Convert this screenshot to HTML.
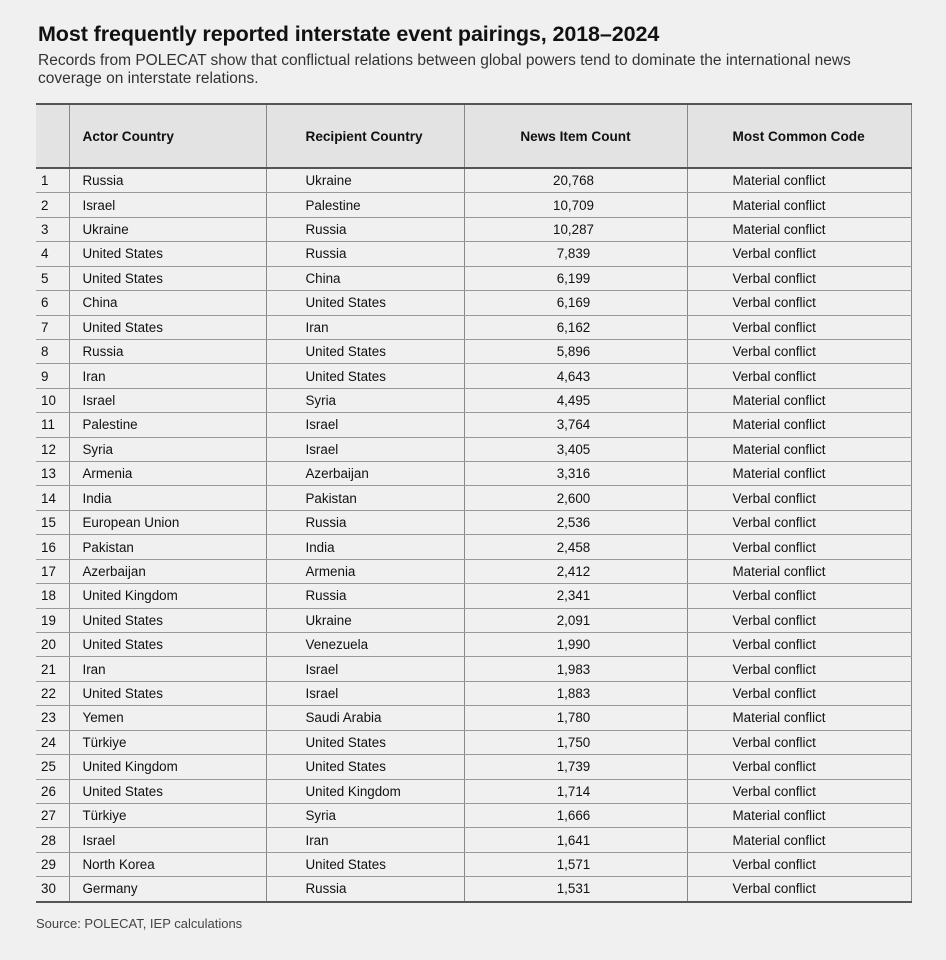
<!DOCTYPE html>
<html><head><meta charset="utf-8"><style>
body{margin:0;width:946px;height:960px;background:#f0f0f0;font-family:"Liberation Sans",Arial,sans-serif;color:#111;position:relative;overflow:hidden}
h1{position:absolute;left:38px;top:22px;margin:0;font-size:21.5px;font-weight:bold;letter-spacing:-0.1px}
.sub{position:absolute;left:38px;top:52px;font-size:15.5px;line-height:18px;color:#333;width:870px}
table{position:absolute;left:36px;top:103px;width:875px;border-collapse:collapse;font-size:13.4px;table-layout:fixed}
th{background:#e3e3e3;height:62px;font-weight:bold;font-size:13.6px;border-left:1px solid #888;border-bottom:2px solid #555;text-align:left;padding:0 0 0 13px}
thead tr{border-top:2px solid #555}
td{height:23.43px;padding:0 0 0 13px;border-left:1px solid #888;border-bottom:1px solid #999;white-space:nowrap}
td:first-child,th:first-child{border-left:none;padding-left:5px}
td:nth-child(4){text-align:center;padding-left:0;padding-right:4px}
th:nth-child(4){text-align:center;padding-left:0}
th:nth-child(3){text-align:left;padding-left:39px}
td:nth-child(3){padding-left:39px}
th:nth-child(5){text-align:left;padding-left:45px}
td:nth-child(5){padding-left:45px}
table{border-right:1px solid #888}
tbody tr:last-child td{border-bottom:2px solid #555}
.src{position:absolute;left:36px;top:916px;font-size:13px;color:#444}
</style></head><body>
<h1>Most frequently reported interstate event pairings, 2018–2024</h1>
<div class="sub">Records from POLECAT show that conflictual relations between global powers tend to dominate the international news<br>coverage on interstate relations.</div>
<table>
<colgroup><col style="width:33px"><col style="width:197px"><col style="width:198px"><col style="width:223px"><col style="width:224px"></colgroup>
<thead><tr><th></th><th>Actor Country</th><th>Recipient Country</th><th>News Item Count</th><th>Most Common Code</th></tr></thead>
<tbody>
<tr><td>1</td><td>Russia</td><td>Ukraine</td><td>20,768</td><td>Material conflict</td></tr>
<tr><td>2</td><td>Israel</td><td>Palestine</td><td>10,709</td><td>Material conflict</td></tr>
<tr><td>3</td><td>Ukraine</td><td>Russia</td><td>10,287</td><td>Material conflict</td></tr>
<tr><td>4</td><td>United States</td><td>Russia</td><td>7,839</td><td>Verbal conflict</td></tr>
<tr><td>5</td><td>United States</td><td>China</td><td>6,199</td><td>Verbal conflict</td></tr>
<tr><td>6</td><td>China</td><td>United States</td><td>6,169</td><td>Verbal conflict</td></tr>
<tr><td>7</td><td>United States</td><td>Iran</td><td>6,162</td><td>Verbal conflict</td></tr>
<tr><td>8</td><td>Russia</td><td>United States</td><td>5,896</td><td>Verbal conflict</td></tr>
<tr><td>9</td><td>Iran</td><td>United States</td><td>4,643</td><td>Verbal conflict</td></tr>
<tr><td>10</td><td>Israel</td><td>Syria</td><td>4,495</td><td>Material conflict</td></tr>
<tr><td>11</td><td>Palestine</td><td>Israel</td><td>3,764</td><td>Material conflict</td></tr>
<tr><td>12</td><td>Syria</td><td>Israel</td><td>3,405</td><td>Material conflict</td></tr>
<tr><td>13</td><td>Armenia</td><td>Azerbaijan</td><td>3,316</td><td>Material conflict</td></tr>
<tr><td>14</td><td>India</td><td>Pakistan</td><td>2,600</td><td>Verbal conflict</td></tr>
<tr><td>15</td><td>European Union</td><td>Russia</td><td>2,536</td><td>Verbal conflict</td></tr>
<tr><td>16</td><td>Pakistan</td><td>India</td><td>2,458</td><td>Verbal conflict</td></tr>
<tr><td>17</td><td>Azerbaijan</td><td>Armenia</td><td>2,412</td><td>Material conflict</td></tr>
<tr><td>18</td><td>United Kingdom</td><td>Russia</td><td>2,341</td><td>Verbal conflict</td></tr>
<tr><td>19</td><td>United States</td><td>Ukraine</td><td>2,091</td><td>Verbal conflict</td></tr>
<tr><td>20</td><td>United States</td><td>Venezuela</td><td>1,990</td><td>Verbal conflict</td></tr>
<tr><td>21</td><td>Iran</td><td>Israel</td><td>1,983</td><td>Verbal conflict</td></tr>
<tr><td>22</td><td>United States</td><td>Israel</td><td>1,883</td><td>Verbal conflict</td></tr>
<tr><td>23</td><td>Yemen</td><td>Saudi Arabia</td><td>1,780</td><td>Material conflict</td></tr>
<tr><td>24</td><td>Türkiye</td><td>United States</td><td>1,750</td><td>Verbal conflict</td></tr>
<tr><td>25</td><td>United Kingdom</td><td>United States</td><td>1,739</td><td>Verbal conflict</td></tr>
<tr><td>26</td><td>United States</td><td>United Kingdom</td><td>1,714</td><td>Verbal conflict</td></tr>
<tr><td>27</td><td>Türkiye</td><td>Syria</td><td>1,666</td><td>Material conflict</td></tr>
<tr><td>28</td><td>Israel</td><td>Iran</td><td>1,641</td><td>Material conflict</td></tr>
<tr><td>29</td><td>North Korea</td><td>United States</td><td>1,571</td><td>Verbal conflict</td></tr>
<tr><td>30</td><td>Germany</td><td>Russia</td><td>1,531</td><td>Verbal conflict</td></tr>
</tbody></table>
<div class="src">Source: POLECAT, IEP calculations</div>
</body></html>
